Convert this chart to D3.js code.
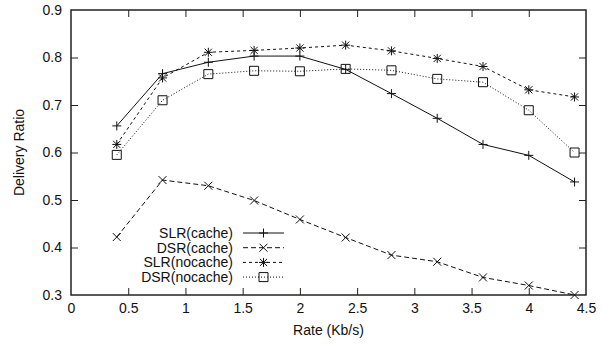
<!DOCTYPE html>
<html>
<head>
<meta charset="utf-8">
<script src="https://cdn.jsdelivr.net/npm/d3@7"></script>
<style>
  html, body { margin: 0; padding: 0; background: #fff; }
  svg { display: block; font-family: "Liberation Sans", Arial, sans-serif; }
</style>
</head>
<body>
<div id="chart"></div>
<script>
const rates = [0.4, 0.8, 1.2, 1.6, 2.0, 2.4, 2.8, 3.2, 3.6, 4.0, 4.4];
const slrCache = [0.656, 0.766, 0.790, 0.803, 0.803, 0.775, 0.724, 0.672, 0.617, 0.594, 0.538];
const dsrCache = [0.422, 0.542, 0.530, 0.499, 0.459, 0.421, 0.384, 0.370, 0.337, 0.320, 0.300];
const slrNocache = [0.617, 0.757, 0.811, 0.815, 0.820, 0.826, 0.814, 0.798, 0.781, 0.732, 0.717];
const dsrNocache = [0.595, 0.710, 0.765, 0.772, 0.771, 0.776, 0.773, 0.755, 0.748, 0.689, 0.600];
const seriesNames = ['SLR(cache)', 'DSR(cache)', 'SLR(nocache)', 'DSR(nocache)'];
const xTicks = [0, 0.5, 1, 1.5, 2, 2.5, 3, 3.5, 4, 4.5];
const yTicks = [0.3, 0.4, 0.5, 0.6, 0.7, 0.8, 0.9];

const width = 603, height = 345;
const margin = { top: 10, right: 17, bottom: 50, left: 71 };
const innerW = width - margin.left - margin.right;
const innerH = height - margin.top - margin.bottom;

const svg = d3.select('#chart').append('svg').attr('width', width).attr('height', height);
const g = svg.append('g').attr('transform', `translate(${margin.left},${margin.top})`);

const x = d3.scaleLinear([0, 4.5], [0, innerW]);
const y = d3.scaleLinear([0.3, 0.9], [innerH, 0]);

const ink = '#222';
const tick = 7;

// axes with inward ticks, mirrored on top and right
const fmt = d3.format('~g');
const bottom = g.append('g').attr('transform', `translate(0,${innerH})`)
  .call(d3.axisBottom(x).tickValues(xTicks).tickFormat(fmt).tickSize(-tick).tickSizeOuter(0).tickPadding(8));
const left = g.append('g')
  .call(d3.axisLeft(y).tickValues(yTicks).tickFormat(d3.format('.1f')).tickSize(-tick).tickSizeOuter(0).tickPadding(9));
g.append('g').call(d3.axisTop(x).tickValues(xTicks).tickFormat('').tickSize(-tick).tickSizeOuter(0));
g.append('g').attr('transform', `translate(${innerW},0)`)
  .call(d3.axisRight(y).tickValues(yTicks).tickFormat('').tickSize(-tick).tickSizeOuter(0));
g.selectAll('.domain').remove();
g.selectAll('.tick line').attr('stroke', ink).attr('stroke-width', 1);
g.selectAll('.tick text').attr('fill', '#111').style('font-size', '14px');
// hide tick marks at the frame corners
g.selectAll('.tick').filter((d) => d === 0 || d === 4.5 || d === 0.3 || d === 0.9).select('line').remove();

g.append('rect').attr('width', innerW).attr('height', innerH)
  .attr('fill', 'none').attr('stroke', ink).attr('stroke-width', 1.5);

svg.append('text').attr('x', margin.left + innerW / 2).attr('y', 335)
  .attr('text-anchor', 'middle').style('font-size', '14px').attr('fill', '#111').text('Rate (Kb/s)');
svg.append('text').attr('transform', `translate(24,${margin.top + innerH / 2}) rotate(-90)`)
  .attr('text-anchor', 'middle').style('font-size', '14px').attr('fill', '#111').text('Delivery Ratio');

// markers
function marker(sel, type) {
  const s = 4.5;
  const p = d3.path();
  if (type === 'plus' || type === 'star') {
    p.moveTo(-s, 0); p.lineTo(s, 0); p.moveTo(0, -s); p.lineTo(0, s);
  }
  if (type === 'cross' || type === 'star') {
    const c = type === 'star' ? 3.6 : 4;
    p.moveTo(-c, -c); p.lineTo(c, c); p.moveTo(-c, c); p.lineTo(c, -c);
  }
  if (type === 'square') {
    p.rect(-4.5, -4.5, 9, 9);
  }
  sel.append('path').attr('d', p.toString()).attr('fill', 'none').attr('stroke', '#111').attr('stroke-width', 1);
}

const series = [
  { name: seriesNames[0], values: slrCache, dash: null, marker: 'plus' },
  { name: seriesNames[1], values: dsrCache, dash: '5,3', marker: 'cross' },
  { name: seriesNames[2], values: slrNocache, dash: '3,3', marker: 'star' },
  { name: seriesNames[3], values: dsrNocache, dash: '1,2', marker: 'square' },
];

const line = d3.line().x((d) => x(d[0])).y((d) => y(d[1]));
series.forEach((s) => {
  const pts = rates.map((r, i) => [r, s.values[i]]);
  g.append('path').datum(pts).attr('d', line).attr('fill', 'none')
    .attr('stroke', '#111').attr('stroke-width', 1).attr('stroke-dasharray', s.dash);
  g.append('g').selectAll('g').data(pts).join('g')
    .attr('transform', (d) => `translate(${x(d[0])},${y(d[1])})`)
    .each(function () { marker(d3.select(this), s.marker); });
});

// legend
const legend = svg.append('g');
series.forEach((s, i) => {
  const ly = 233 + i * 14.7;
  legend.append('text').attr('x', 233).attr('y', ly).attr('dy', '0.35em')
    .attr('text-anchor', 'end').style('font-size', '14px').attr('fill', '#111').text(s.name);
  legend.append('line').attr('x1', 243).attr('x2', 284).attr('y1', ly).attr('y2', ly)
    .attr('stroke', '#111').attr('stroke-width', 1).attr('stroke-dasharray', s.dash);
  marker(legend.append('g').attr('transform', `translate(263.5,${ly})`), s.marker);
});
</script>
</body>
</html>
